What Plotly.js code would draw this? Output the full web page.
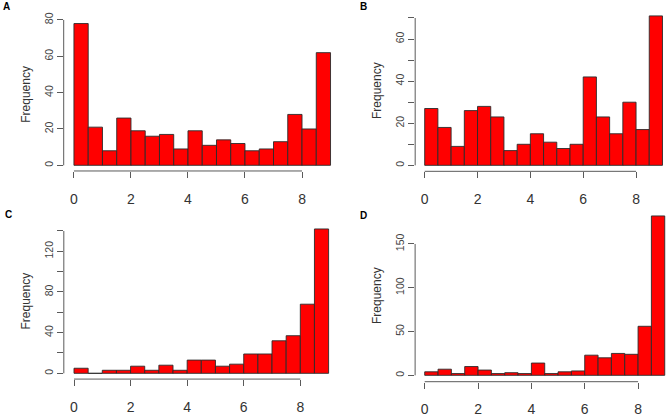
<!DOCTYPE html>
<html>
<head>
<meta charset="utf-8">
<script src="https://cdn.plot.ly/plotly-3.0.1.min.js"></script>
<style>html,body{margin:0;padding:0;background:#fff;}#chart{width:669px;height:420px;}</style>
</head>
<body>
<div id="chart"></div>
<script>
// Bin starts (width 0.5) shared by all four histograms
var binStart = [0,0.5,1,1.5,2,2.5,3,3.5,4,4.5,5,5.5,6,6.5,7,7.5,8,8.5];
var binWidth = 0.5;

// Frequencies per panel
var countsA = [78,21,8,26,19,16,17,9,19,11,14,12,8,9,13,28,20,62];
var countsB = [27,18,9,26,28,23,7,10,15,11,8,10,42,23,15,30,17,71];
var countsC = [5,0,3,3,7,3,8,3,13,13,7,9,19,19,32,37,68,142];
var countsD = [4,7,2,10,6,2,3,2,14,2,4,5,23,20,25,24,56,182];

var panelLabels = ["A","B","C","D"];
var xTicks = [0,2,4,6,8];
var yTicksA = [0,20,40,60,80];
var yTextA  = ["0","20","40","60","80"];
var yTicksB = [0,10,20,30,40,50,60,70];
var yTextB  = ["0","","20","","40","","60",""];
var yTicksC = [0,20,40,60,80,100,120,140];
var yTextC  = ["0","","40","","80","","120",""];
var yTicksD = [0,50,100,150];
var yTextD  = ["0","50","100","150"];

var axisCol = "#5a5a5a";
var allCounts = [countsA, countsB, countsC, countsD];
var yTicks = [yTicksA, yTicksB, yTicksC, yTicksD];
var yTexts = [yTextA, yTextB, yTextC, yTextD];

var xDomains = [[0.0952,0.5094],[0.6206,1],[0.0954,0.5064],[0.6205,1]];
var yDomains = [[0.5929,0.9574],[0.5921,0.9764],[0.0974,0.4686],[0.0912,0.5010]];
var xRanges = [[-0.36,9.36],[-0.36,9.247],[-0.36,9.36],[-0.36,9.16]];
var labelPos = [[6,6.3],[363.3,6.3],[8,214.5],[363.3,215.5]];

var traces = [];
var layout = {
  width: 669, height: 420,
  margin: {l:0, r:0, t:0, b:0},
  paper_bgcolor: "#fff", plot_bgcolor: "#fff",
  showlegend: false,
  bargap: 0,
  font: {family: "Liberation Sans, Arial, sans-serif", color: "#333"},
  shapes: [], annotations: []
};

for (var i = 0; i < 4; i++) {
  var sfx = i === 0 ? "" : String(i + 1);
  var counts = allCounts[i];
  var maxC = Math.max.apply(null, counts);
  traces.push({
    type: "bar",
    x: binStart, y: counts,
    width: binWidth, offset: 0,
    xaxis: "x" + sfx, yaxis: "y" + sfx,
    marker: {color: "#FF0000", line: {color: "#2b2b2b", width: 0.9}},
    hoverinfo: "x+y"
  });
  var pad = maxC * 0.04;
  layout["xaxis" + sfx] = {
    domain: xDomains[i], range: xRanges[i], anchor: "y" + sfx,
    showgrid: false, zeroline: false, showline: false,
    tickmode: "array", tickvals: xTicks, ticktext: xTicks.map(String),
    ticks: "outside", ticklen: 6, tickwidth: 1, tickcolor: axisCol,
    ticklabelstandoff: 9,
    tickfont: {family: "Liberation Sans Narrow, Arial Narrow, Liberation Sans, sans-serif", size: 14, color: "#333"}
  };
  layout["yaxis" + sfx] = {
    domain: yDomains[i], range: [-pad, maxC + pad], anchor: "x" + sfx,
    showgrid: false, zeroline: false, showline: false,
    tickmode: "array", tickvals: yTicks[i], ticktext: yTexts[i],
    ticks: "outside", ticklen: 6, tickwidth: 1, tickcolor: axisCol,
    tickangle: -90,
    tickfont: {family: "Liberation Sans, Arial, sans-serif", size: 10.5, color: "#444"},
    title: {text: "Frequency", standoff: 9, font: {family: "Liberation Sans, Arial, sans-serif", size: 12, color: "#333"}}
  };
  // R-style detached axis lines spanning first to last tick
  layout.shapes.push({
    type: "line", xref: "x" + sfx, yref: "y" + sfx + " domain",
    x0: xTicks[0], x1: xTicks[xTicks.length - 1], y0: 0, y1: 0,
    line: {color: axisCol, width: 1}
  });
  var yt = yTicks[i];
  layout.shapes.push({
    type: "line", xref: "x" + sfx + " domain", yref: "y" + sfx,
    x0: 0, x1: 0, y0: yt[0], y1: yt[yt.length - 1],
    line: {color: axisCol, width: 1}
  });
  layout.annotations.push({
    text: "<b>" + panelLabels[i] + "</b>", xref: "paper", yref: "paper",
    x: labelPos[i][0] / 669, y: 1 - labelPos[i][1] / 420,
    xanchor: "center", yanchor: "middle", showarrow: false,
    font: {family: "Liberation Sans, Arial, sans-serif", size: 10, color: "#000"}
  });
}

Plotly.newPlot("chart", traces, layout, {displayModeBar: false, staticPlot: true});
</script>
</body>
</html>
